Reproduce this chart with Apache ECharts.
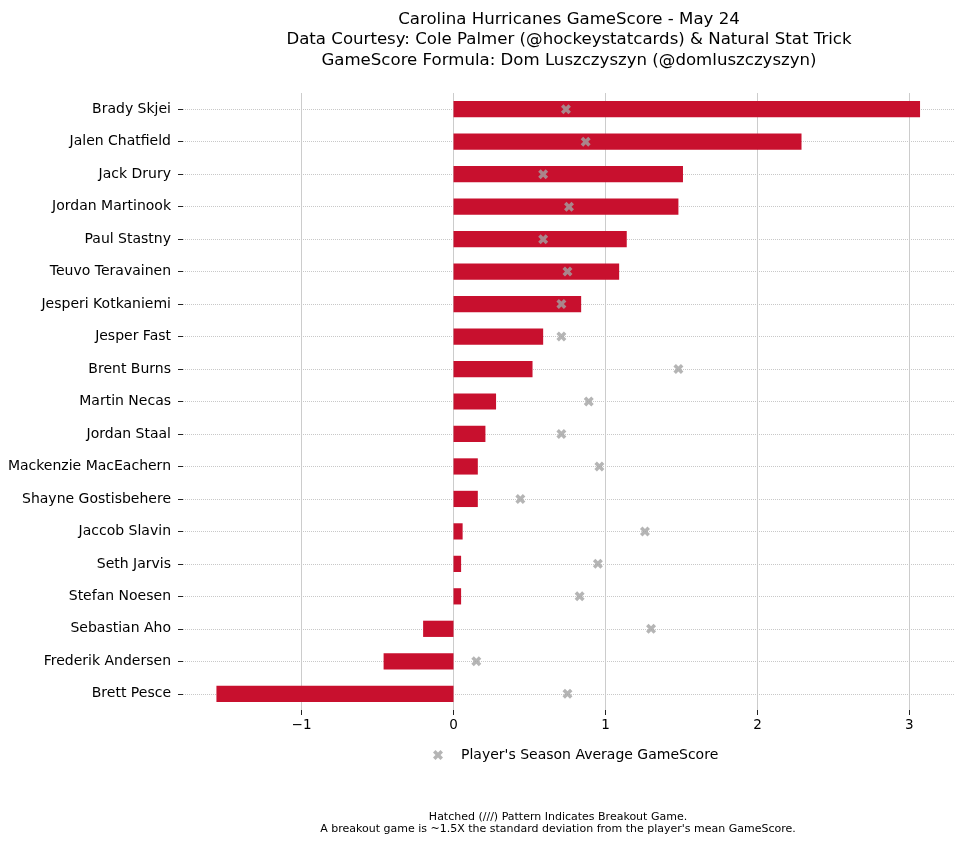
<!DOCTYPE html>
<html>
<head>
    <meta charset="utf-8">
    <title>GameScore</title>
    <script src="https://cdn.jsdelivr.net/npm/echarts@6/dist/echarts.min.js"></script>
</head>
<body style="margin:0;background:#fff;">
<div id="main" style="width:966px;height:842px;"></div>
<script type="text/javascript">
    // players, top to bottom
    var players = ['Brady Skjei', 'Jalen Chatfield', 'Jack Drury', 'Jordan Martinook', 'Paul Stastny',
        'Teuvo Teravainen', 'Jesperi Kotkaniemi', 'Jesper Fast', 'Brent Burns', 'Martin Necas',
        'Jordan Staal', 'Mackenzie MacEachern', 'Shayne Gostisbehere', 'Jaccob Slavin', 'Seth Jarvis',
        'Stefan Noesen', 'Sebastian Aho', 'Frederik Andersen', 'Brett Pesce'];
    // game score for May 24
    var gameScore = [3.07, 2.29, 1.51, 1.48, 1.14, 1.09, 0.84, 0.59, 0.52, 0.28,
        0.21, 0.16, 0.16, 0.06, 0.05, 0.05, -0.20, -0.46, -1.56];
    // season average game score
    var seasonAvg = [0.74, 0.87, 0.59, 0.76, 0.59, 0.75, 0.71, 0.71, 1.48, 0.89,
        0.71, 0.96, 0.44, 1.26, 0.95, 0.83, 1.30, 0.15, 0.75];
    var xTicks = [-1, 0, 1, 2, 3];

    var font = 'DejaVu Sans';
    var xMark = 'path://M0,2.5 L2.5,0 L5,2.5 L7.5,0 L10,2.5 L7.5,5 L10,7.5 L7.5,10 L5,7.5 L2.5,10 L0,7.5 L2.5,5 Z';

    // row positions for the dotted guides (one per player)
    var rowIdx = players.map(function (p, i) { return i; });

    var myChart = echarts.init(document.getElementById('main'));

    var option = {
        backgroundColor: '#fff',
        animation: false,
        textStyle: {fontFamily: font},
        title: [{
            text: 'Carolina Hurricanes GameScore - May 24\n' +
                'Data Courtesy: Cole Palmer (@hockeystatcards) & Natural Stat Trick\n' +
                'GameScore Formula: Dom Luszczyszyn (@domluszczyszyn)',
            left: 564,
            top: 4,
            textAlign: 'center',
            textStyle: {fontFamily: font, fontSize: 16.6, fontWeight: 'normal', color: '#000', lineHeight: 20.5}
        }, {
            text: 'Hatched (///) Pattern Indicates Breakout Game.\n' +
                'A breakout game is ~1.5X the standard deviation from the player\'s mean GameScore.',
            left: 553,
            top: 806,
            textAlign: 'center',
            textStyle: {fontFamily: font, fontSize: 11, fontWeight: 'normal', color: '#000', lineHeight: 12}
        }],
        legend: {
            data: ["Player's Season Average GameScore"],
            left: 428,
            top: 743,
            itemWidth: 10,
            itemHeight: 10,
            textStyle: {fontFamily: font, fontSize: 14, color: '#000', padding: [0, 0, 0, 13]}
        },
        grid: {left: 183, right: 11, top: 93, bottom: 132},
        xAxis: {
            type: 'value',
            min: -1.78,
            max: 3.3,
            axisLine: {show: false, onZero: false},
            axisTick: {show: true, length: 5, lineStyle: {color: '#222'}, customValues: xTicks},
            axisLabel: {
                customValues: xTicks,
                fontFamily: font, fontSize: 13.5, color: '#000', margin: 8,
                formatter: function (v) { return v < 0 ? '\u2212' + Math.abs(v) : '' + v; }
            },
            splitLine: {show: true, lineStyle: {color: '#cccccc', width: 1}}
        },
        yAxis: [{
            type: 'category',
            data: players,
            inverse: true,
            axisLine: {show: false, onZero: false},
            axisTick: {show: true, alignWithLabel: true, length: 5, lineStyle: {color: '#222'}},
            axisLabel: {fontFamily: font, fontSize: 14, color: '#000', margin: 12},
            splitLine: {show: false}
        }, {
            // hidden value axis only for the dotted row guides
            type: 'value',
            inverse: true,
            min: -0.5,
            max: players.length - 0.5,
            position: 'left',
            axisLine: {show: false, onZero: false},
            axisTick: {show: false, customValues: rowIdx},
            axisLabel: {show: false, customValues: rowIdx},
            splitLine: {show: true, lineStyle: {type: 'dotted', color: '#c8c8c8', width: 1}}
        }],
        series: [{
            name: 'GameScore',
            type: 'bar',
            data: gameScore,
            barWidth: '50%',
            z: 2,
            itemStyle: {color: '#C8102E'}
        }, {
            name: "Player's Season Average GameScore",
            type: 'scatter',
            data: seasonAvg,
            symbol: xMark,
            symbolSize: 10,
            z: 3,
            itemStyle: {color: '#a3a3a3'}
        }]
    };

    myChart.setOption(option);
</script>
</body>
</html>
